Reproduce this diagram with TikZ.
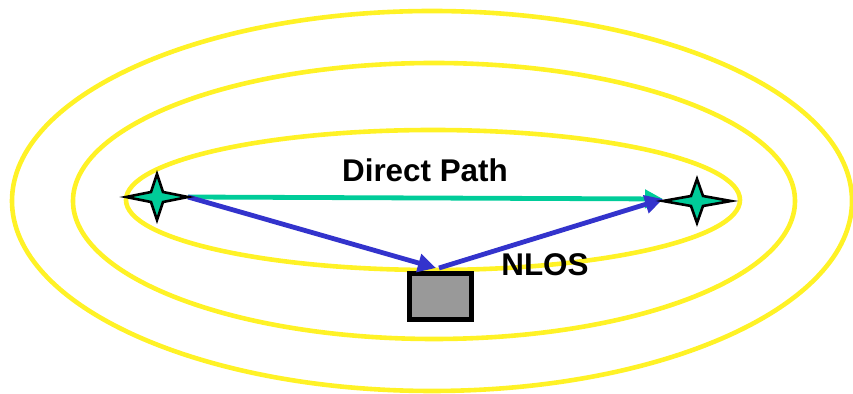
\documentclass[tikz,border=0pt]{standalone}
\usepackage{fontspec}
\setmainfont{Liberation Sans}
\usetikzlibrary{arrows.meta,calc}
\definecolor{ringyellow}{HTML}{FFF226}
\definecolor{pathgreen}{HTML}{00CC99}
\definecolor{pathblue}{HTML}{3333CC}
\definecolor{boxgray}{HTML}{999999}
\tikzset{
  ring/.style={draw=ringyellow, line width=2.3pt},
  ray/.style={line width=2.4pt, -{Triangle[length=9pt,width=9pt]}},
  starshape/.style={draw=black, fill=pathgreen, line width=1.3pt, line join=miter},
  lbl/.style={font=\fontsize{15.7}{18}\selectfont\bfseries, inner sep=0pt}
}
% four-pointed star: centre, half width, half height (pixel units)
\newcommand{\fourstar}[3]{%
  \path[starshape] ($(#1)+(-#2,0)$) -- ($(#1)+(-6,-5)$) -- ($(#1)+(0,-#3)$) --
    ($(#1)+(6,-5)$) -- ($(#1)+(#2,0)$) -- ($(#1)+(6,5)$) -- ($(#1)+(0,#3)$) --
    ($(#1)+(-6,5)$) -- cycle;}
\begin{document}
\begin{tikzpicture}[x=0.5pt,y=-0.5pt]
\useasboundingbox (0,0) rectangle (853,394);
% coverage contours
\draw[ring] (432,201) ellipse [x radius=420, y radius=190];
\draw[ring] (434,201) ellipse [x radius=361, y radius=138];
\draw[ring] (433,200) ellipse [x radius=307, y radius=70];
% key points
\coordinate (tx) at (157,197);
\coordinate (rx) at (697,201);
\coordinate (txtip) at (188,197);
\coordinate (rxtip) at (663,199);
\coordinate (refl) at (436,268);
% reflector
\node[draw=black, fill=boxgray, line width=2.5pt, minimum width=31pt,
      minimum height=23pt, inner sep=0pt] (obst) at (440,297) {};
% rays
\draw[ray, draw=pathgreen, fill=pathgreen] (txtip) -- (rxtip);
\draw[ray, draw=pathblue, fill=pathblue] (txtip) -- (refl);
\draw[ray, draw=pathblue, fill=pathblue] ($(refl)+(3,0)$) -- (rxtip);
% transmitter and receiver
\fourstar{tx}{31}{23}
\fourstar{rx}{34}{22}
% labels
\node[lbl] (direct) at (425,170) {Direct Path};
\node[lbl] (nlos) at (545,265) {NLOS};
\end{tikzpicture}
\end{document}
